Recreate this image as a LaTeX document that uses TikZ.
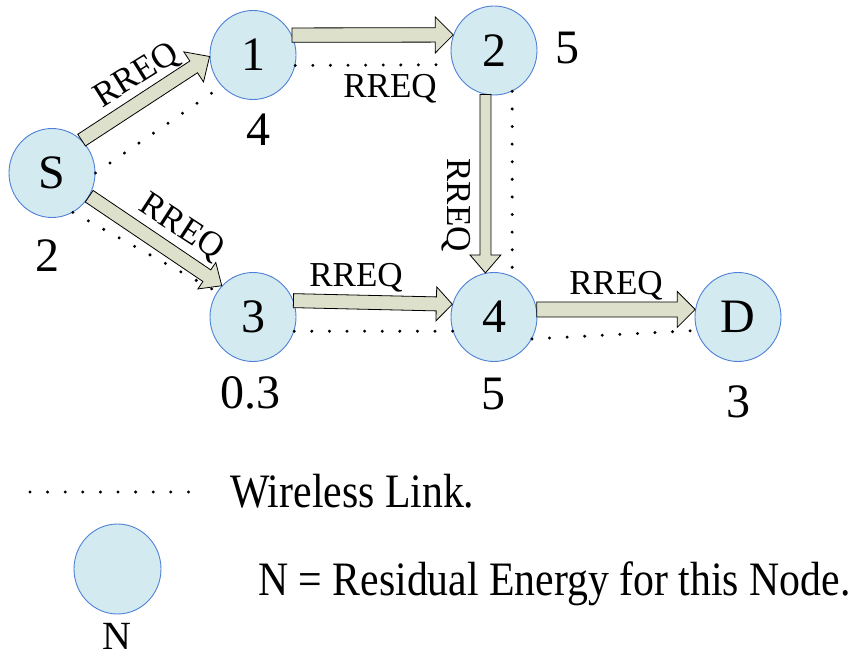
\documentclass[tikz,border=0pt]{standalone}
\usepackage{fontspec}
\setmainfont{Liberation Serif}
\newfontfamily\legendfont[FakeStretch=0.87]{Liberation Serif}
\usetikzlibrary{calc,shapes.geometric}

\definecolor{nodefill}{HTML}{D4EAF1}
\definecolor{nodeedge}{HTML}{4F81D6}
\definecolor{arrowfill}{HTML}{DDE0CB}

\tikzset{
  netnode/.style={ellipse, draw=nodeedge, line width=0.9pt, fill=nodefill,
    minimum width=86pt, minimum height=89pt, inner sep=0pt,
    font=\fontsize{48}{48}\selectfont},
  energy/.style={inner sep=0pt, font=\fontsize{48}{48}\selectfont},
  rreq/.style={inner sep=0pt, font=\fontsize{35}{35}\selectfont},
  legendtext/.style={inner sep=0pt, font=\legendfont\fontsize{48}{48}\selectfont},
  wireless/.style={line width=3.3pt, line cap=round, dash pattern=on 0pt off 17.6pt},
  blockarrow/.style={draw=black, line width=0.8pt, fill=arrowfill, line join=miter},
}

% block arrow: #1 start, #2 tip, #3 shaft half width, #4 head half width, #5 head length
\newcommand\rreqarrow[5]{%
  \path[blockarrow] let \p1=(#1), \p2=(#2),
      \n1={atan2(\y2-\y1,\x2-\x1)}, \n2={veclen(\x2-\x1,\y2-\y1)} in
    ($(\p1)+(\n1+90:#3)$)
    -- ($(\p1)+(\n1:{\n2-#5})+(\n1+90:#3)$)
    -- ($(\p1)+(\n1:{\n2-#5})+(\n1+90:#4)$)
    -- (\p2)
    -- ($(\p1)+(\n1:{\n2-#5})+(\n1-90:#4)$)
    -- ($(\p1)+(\n1:{\n2-#5})+(\n1-90:#3)$)
    -- ($(\p1)+(\n1-90:#3)$) -- cycle;
}

\begin{document}
\begin{tikzpicture}[x=1pt,y=-1pt]
\useasboundingbox (0,0) rectangle (857,652);

% network nodes
\node[netnode] (S)  at (52,173)  {S};
\node[netnode] (n1) at (253,55)  {1};
\node[netnode] (n2) at (494,50.5) {2};
\node[netnode] (n3) at (253,317) {3};
\node[netnode] (n4) at (494,317) {4};
\node[netnode] (D)  at (738,317) {D};

% residual energy values
\node[energy] (eS) at (47,256)  {2};
\node[energy] (e1) at (258,130) {4};
\node[energy] (e2) at (567,48)  {5};
\node[energy] (e3) at (250,393) {0.3};
\node[energy] (e4) at (493,394) {5};
\node[energy] (eD) at (738,402) {3};

% wireless links
\draw[wireless] (S.0)   -- (n1.225);
\draw[wireless] (n1.-14) -- (n2.199);
\draw[wireless] (n2.-66) -- (n4.66);
\draw[wireless] (S.-62) -- (n3.145);
\draw[wireless] (n3.-19) -- (n4.199);
\draw[wireless] (n4.-30) -- (D.198);

% RREQ propagation
\rreqarrow{S.48}{n1.182}{7pt}{18pt}{19pt}
\rreqarrow{n1.27}{n2.159}{7.2pt}{18pt}{18pt}
\rreqarrow{n2.-101}{n4.101}{5.5pt}{15.5pt}{18pt}
\rreqarrow{S.-32}{n3.135}{7pt}{16pt}{18pt}
\rreqarrow{n3.22}{n4.163}{7pt}{17pt}{16pt}
\rreqarrow{n4.10}{D.170}{7.5pt}{18pt}{18pt}

\node[rreq, rotate=32]  (r1) at (137,76)  {RREQ};
\node[rreq, anchor=base] (r2) at (390,98) {RREQ};
\node[rreq, rotate=-90] (r3) at (456,205) {RREQ};
\node[rreq, rotate=-33] (r4) at (181,228) {RREQ};
\node[rreq, anchor=base] (r5) at (356,287) {RREQ};
\node[rreq, anchor=base] (r6) at (616,295) {RREQ};

% legend
\coordinate (legA) at (30,492);
\coordinate (legB) at (189,492);
\draw[wireless] (legA) -- (legB);
\node[legendtext, anchor=base west] (lw) at (230,507) {Wireless Link.};
\node[netnode, minimum width=87pt, minimum height=90pt] (legN) at (117.5,569) {};
\node[inner sep=0pt, anchor=base, font=\fontsize{40}{40}\selectfont] (legNl) at (117,649) {N};
\node[legendtext, anchor=base west] (lr) at (258,595) {N = Residual Energy for this Node.};
\end{tikzpicture}
\end{document}
